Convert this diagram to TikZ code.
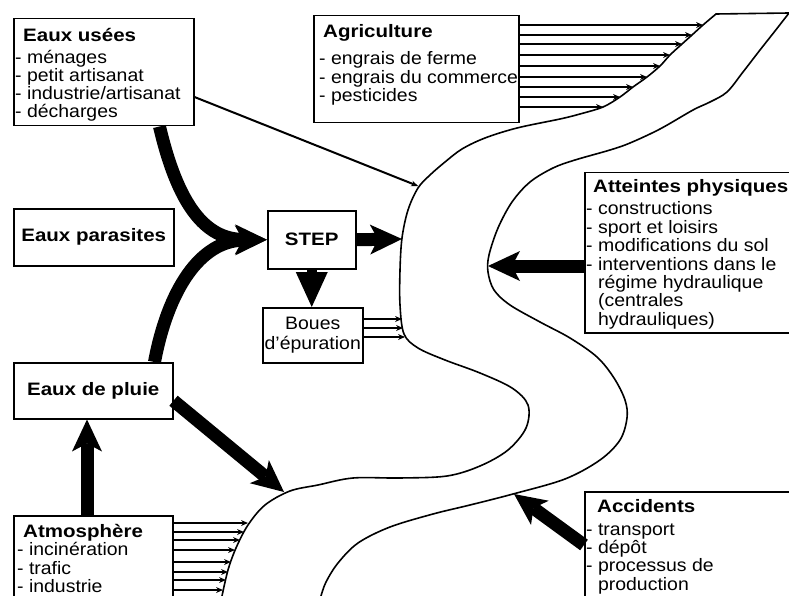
\documentclass[tikz,border=0pt]{standalone}
\usepackage{fontspec}
\setmainfont{Liberation Sans}[FakeStretch=1.08, BoldFeatures={FakeStretch=1.14}]
\usetikzlibrary{arrows.meta}
\newcommand\contline{\phantom{- }}
\tikzset{
  panel/.style={draw, line width=1.5pt, anchor=north west, inner sep=0pt},
  boxtext/.style={anchor=base west, inner sep=0pt},
  fat/.style={line width=13pt, -{Stealth[length=32pt,width=30pt,inset=8pt,line width=0pt]}},
  slim/.style={line width=2.2pt, -{Stealth[length=7pt,width=6pt,line width=0pt]}},
  bank/.style={line width=1.6pt, line join=round, line cap=round},
}
\begin{document}
\begin{tikzpicture}[x=1pt, y=-1pt, font=\fontsize{18}{18}\selectfont]
\path[use as bounding box] (0,0) rectangle (789,596);
\clip (0,0) rectangle (789,596);

% --- the river ---
\draw[bank] plot[smooth, tension=0.55] coordinates {
  (716,14) (703,25) (692,35) (682,44) (670,55) (660,66) (647,77) (633,87)
  (620,97) (603,107) (580,114) (560,119) (517,128) (485,138) (462,149)
  (445,162) (430,175) (418,188) (408,210) (402,238) (400,270) (400,305)
  (404,334) (418,348) (445,360) (480,373) (512,388) (528,405) (526,428)
  (508,450) (480,466) (447,476) (400,478) (353,478) (318,485) (290,491)
  (265,505) (248,525) (236,548) (228,570) (222,596)};
\draw[bank] plot[smooth, tension=0.55] coordinates {
  (789,13) (775,31) (760,50) (743,72) (727,92) (710,102) (693,110)
  (660,129) (630,143) (610,150) (575,160) (553,168) (530,182) (512,202)
  (498,228) (489,255) (488,272) (494,290) (510,305) (540,322) (570,338)
  (597,357) (614,378) (625,400) (627,418) (620,440) (600,460) (565,479)
  (513,494) (470,505) (433,514) (390,527) (358,543) (338,563) (326,582)
  (321,596)};
\draw[bank] (716,14) -- (789,13);

% points on the banks where the flows arrive
\coordinate (lb-usees) at (418,186);
\coordinate (lb-step)  at (402,239);
\coordinate (lb-pluie) at (284,492);
\coordinate (rb-att)   at (488,266);
\coordinate (rb-acc)   at (514,494);

% --- boxes ---
\node[panel, minimum width=180pt, minimum height=107pt] (usees) at (13,18) {};
\node[panel, minimum width=205pt, minimum height=107pt] (agri) at (313,15) {};
\node[panel, minimum width=160pt, minimum height=57pt] (parasites) at (13,208) {\bfseries Eaux parasites};
\node[panel, minimum width=88pt, minimum height=58pt] (step) at (267,210) {\bfseries STEP};
\node[panel, minimum width=100pt, minimum height=55pt, align=center,
      font=\fontsize{18}{20}\selectfont] (boues) at (262,307) {Boues\\d'épuration};
\node[panel, minimum width=159pt, minimum height=56pt] (pluie) at (13,362) {\bfseries Eaux de pluie};
\node[panel, minimum width=159pt, minimum height=100pt] (atmo) at (13,515) {};
\node[panel, minimum width=215pt, minimum height=160pt] (att) at (584,172) {};
\node[panel, minimum width=215pt, minimum height=120pt] (acc) at (584,491) {};

% --- box texts ---
\node[boxtext] (usees-txt) at (15,42) {\vtop{\lineskiplimit=-100pt
  \hbox{\hspace{8pt}\bfseries Eaux usées}\vskip4pt
  \hbox{- ménages}\hbox{- petit artisanat}\hbox{- industrie/artisanat}\hbox{- décharges}}};
\node[boxtext] (agri-txt) at (319,38) {\vtop{\lineskiplimit=-100pt\baselineskip=18.5pt
  \hbox{\hspace{4pt}\bfseries Agriculture}\vskip8.5pt
  \hbox{- engrais de ferme}\hbox{- engrais du commerce}\hbox{- pesticides}}};
\node[boxtext] (atmo-txt) at (17,537) {\vtop{\lineskiplimit=-100pt\baselineskip=18.5pt
  \hbox{\hspace{6pt}\bfseries Atmosphère}
  \hbox{- incinération}\hbox{- trafic}\hbox{- industrie}}};
\node[boxtext] (att-txt) at (586,193) {\vtop{\lineskiplimit=-100pt\baselineskip=18.4pt
  \hbox{\hspace{7pt}\bfseries Atteintes physiques}\vskip3.6pt
  \hbox{- constructions}\hbox{- sport et loisirs}\hbox{- modifications du sol}
  \hbox{- interventions dans le}\hbox{\contline régime hydraulique}
  \hbox{\contline (centrales}\hbox{\contline hydrauliques)}}};
\node[boxtext] (acc-txt) at (586,512) {\vtop{\lineskiplimit=-100pt\baselineskip=18.4pt
  \hbox{\hspace{11pt}\bfseries Accidents}\vskip4.6pt
  \hbox{- transport}\hbox{- dépôt}\hbox{- processus de}\hbox{\contline production}}};

% --- heavy flows ---
\draw[fat] ([xshift=-35pt]usees.south east) .. controls (178,205) and (205,239) .. (step.west);
\draw[fat] ([xshift=-19pt]pluie.north east) .. controls (168,290) and (200,241) .. (step.west);
\draw[fat] (step.east) -- (lb-step);
\draw[line width=10pt, -{Triangle[length=35pt,width=32pt,line width=0pt]}]
  (step.south) -- (step.south |- boues.north);
\draw[fat] ([yshift=-10pt]pluie.east) -- (lb-pluie);
\draw[fat] ([xshift=74pt]atmo.north west) -- ([xshift=74pt]pluie.south west);
\draw[fat] ([yshift=-94pt]att.north west) -- (rb-att);
\draw[fat] ([yshift=-54pt]acc.north west) -- (rb-acc);

% --- light flows ---
\draw[slim, line width=2pt] ([yshift=-79pt]usees.north east) -- (lb-usees);
\foreach \dy/\xx [count=\i] in {10/703,20/692,29/682,40/670,51/660,62/647,72/633,82/620,92/603} {
  \coordinate (agri-end-\i) at (\xx,15+\dy);
  \draw[slim, line width=2.6pt] ([yshift=-\dy pt]agri.north east) -- (agri-end-\i);
}
\foreach \dy/\xx [count=\i] in {12/402,21/403,30/405} {
  \coordinate (boues-end-\i) at (\xx,307+\dy);
  \draw[slim] ([yshift=-\dy pt]boues.north east) -- (boues-end-\i);
}
\foreach \dy/\xx [count=\i] in {8/248,17/244,25/240,35/235,47/231,57/228,65/226,75/223} {
  \coordinate (atmo-end-\i) at (\xx,515+\dy);
  \draw[slim, line width=2.4pt] ([yshift=-\dy pt]atmo.north east) -- (atmo-end-\i);
}
\end{tikzpicture}
\end{document}
